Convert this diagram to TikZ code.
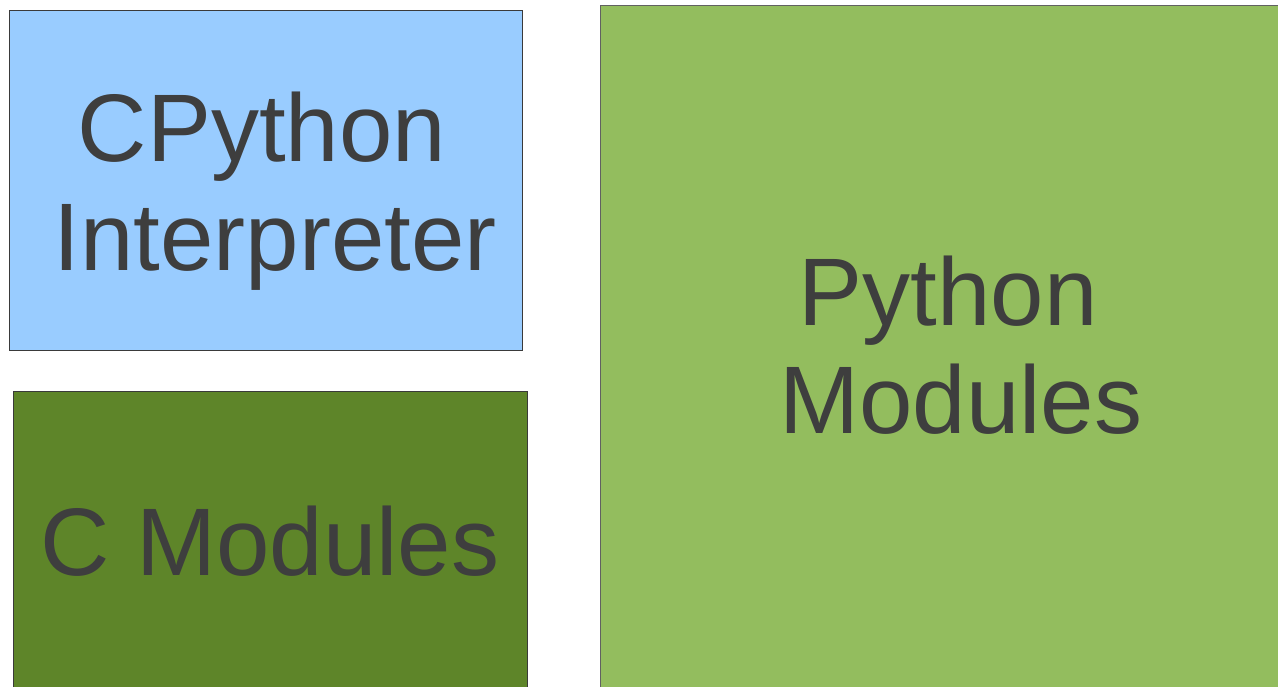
\documentclass[tikz,border=0pt]{standalone}
\usepackage{fontspec}
\setmainfont{Liberation Sans}
\definecolor{lightblue}{HTML}{99CCFF}
\definecolor{darkgreen}{HTML}{5E8529}
\definecolor{lightgreen}{HTML}{93BD5E}
\definecolor{txt}{HTML}{3E3E3E}
\definecolor{edge}{HTML}{3A3A3A}
\tikzset{
  box/.style={draw=edge, line width=1pt, inner sep=0pt, outer sep=0pt},
  lbl/.style={text=txt, font=\fontsize{96}{109}\selectfont, anchor=base, inner sep=0pt},
}
\begin{document}
\begin{tikzpicture}[x=1pt,y=-1pt]
\useasboundingbox (0,0) rectangle (1278,687);
\clip (0,0) rectangle (1278,687);
\fill[white] (0,0) rectangle (1278,687);
\node[box, fill=lightblue, minimum width=513pt, minimum height=340pt, anchor=north west] (interp) at (9,10.5) {};
\node[box, fill=darkgreen, minimum width=514pt, minimum height=320pt, anchor=north west] (cmod) at (13,391.5) {};
\node[box, draw=edge!80, fill=lightgreen, minimum width=700pt, minimum height=700pt, anchor=north west] (pymod) at (600,5.5) {};
\node[lbl] (t1) at (262,162) {CPython};
\node[lbl] (t2) at (275,271) {Interpreter};
\node[lbl] (t3) at (270,575) {C Modules};
\node[lbl] (t4) at (948,326) {Python};
\node[lbl] (t5) at (961,433) {Modules};
\end{tikzpicture}
\end{document}
